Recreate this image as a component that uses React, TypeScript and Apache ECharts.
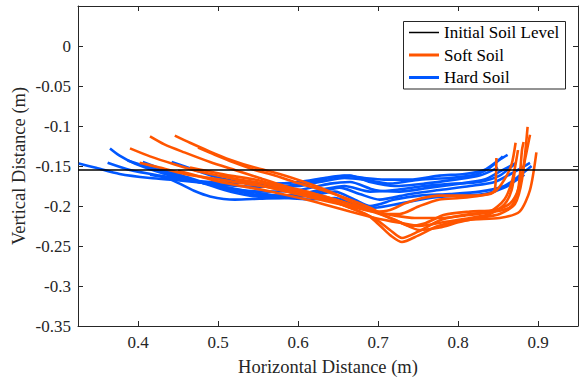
import { useEffect, useRef } from "react";
import * as echarts from "echarts";

// Axis ranges, tick labels and reference level
const xRange = [0.325, 0.95];
const yRange = [-0.35, 0.05];
const xTickValues = [0.4, 0.5, 0.6, 0.7, 0.8, 0.9];
const yTickValues = [0, -0.05, -0.1, -0.15, -0.2, -0.25, -0.3, -0.35];
const initialSoilLevel = -0.155;
const legendNames = ["Initial Soil Level", "Soft Soil", "Hard Soil"];

// Hard soil trajectories (x, y in metres)
const hard1X = [0.326, 0.346, 0.377, 0.415, 0.452, 0.490, 0.527, 0.565, 0.602, 0.627, 0.658, 0.683, 0.715, 0.752, 0.790, 0.821, 0.840, 0.856];
const hard1Y = [-0.147, -0.152, -0.160, -0.165, -0.168, -0.172, -0.175, -0.176, -0.175, -0.170, -0.165, -0.167, -0.172, -0.167, -0.165, -0.161, -0.152, -0.138];
const hard2X = [0.365, 0.377, 0.396, 0.421, 0.452, 0.490, 0.527, 0.565, 0.602, 0.640, 0.665, 0.696, 0.727, 0.765, 0.802, 0.833, 0.852, 0.873];
const hard2Y = [-0.128, -0.137, -0.147, -0.156, -0.165, -0.173, -0.180, -0.182, -0.180, -0.172, -0.170, -0.180, -0.182, -0.177, -0.172, -0.167, -0.157, -0.146];
const hard3X = [0.362, 0.390, 0.427, 0.465, 0.502, 0.540, 0.577, 0.615, 0.652, 0.677, 0.702, 0.740, 0.777, 0.815, 0.846, 0.871, 0.890];
const hard3Y = [-0.146, -0.155, -0.162, -0.168, -0.175, -0.182, -0.187, -0.185, -0.177, -0.185, -0.192, -0.185, -0.180, -0.175, -0.170, -0.157, -0.146];
const hard4X = [0.387, 0.415, 0.446, 0.477, 0.508, 0.540, 0.577, 0.615, 0.646, 0.671, 0.690, 0.721, 0.752, 0.790, 0.827, 0.858, 0.877, 0.892];
const hard4Y = [-0.143, -0.152, -0.161, -0.170, -0.180, -0.187, -0.190, -0.187, -0.182, -0.192, -0.200, -0.192, -0.187, -0.185, -0.182, -0.175, -0.162, -0.150];
const hard5X = [0.406, 0.433, 0.465, 0.496, 0.527, 0.558, 0.590, 0.627, 0.658, 0.690, 0.721, 0.758, 0.796, 0.827, 0.852, 0.870];
const hard5Y = [-0.145, -0.155, -0.165, -0.175, -0.182, -0.187, -0.187, -0.180, -0.175, -0.182, -0.180, -0.175, -0.172, -0.170, -0.162, -0.148];
const hard6X = [0.442, 0.471, 0.502, 0.540, 0.577, 0.608, 0.640, 0.665, 0.690, 0.721, 0.758, 0.796, 0.827, 0.850];
const hard6Y = [-0.145, -0.155, -0.165, -0.172, -0.175, -0.172, -0.165, -0.162, -0.170, -0.175, -0.172, -0.167, -0.162, -0.152];
const hard7X = [0.430, 0.452, 0.470, 0.490, 0.521, 0.552, 0.583, 0.615, 0.646, 0.671, 0.696, 0.727, 0.765, 0.802, 0.833, 0.858, 0.883];
const hard7Y = [-0.162, -0.172, -0.181, -0.188, -0.192, -0.191, -0.190, -0.192, -0.190, -0.197, -0.202, -0.197, -0.190, -0.187, -0.185, -0.177, -0.161];
const hard8X = [0.415, 0.452, 0.490, 0.527, 0.565, 0.602, 0.633, 0.658, 0.683, 0.708, 0.740, 0.777, 0.808, 0.833, 0.852, 0.862];
const hard8Y = [-0.161, -0.167, -0.170, -0.171, -0.172, -0.170, -0.165, -0.162, -0.165, -0.167, -0.167, -0.162, -0.160, -0.155, -0.142, -0.136];

// Soft soil trajectories (x, y in metres)
const soft1X = [0.415, 0.433, 0.458, 0.490, 0.521, 0.552, 0.583, 0.615, 0.646, 0.677, 0.702, 0.727, 0.752, 0.777, 0.802, 0.827, 0.852, 0.871, 0.880, 0.887];
const soft1Y = [-0.113, -0.123, -0.133, -0.145, -0.155, -0.165, -0.175, -0.183, -0.192, -0.202, -0.210, -0.220, -0.230, -0.227, -0.220, -0.215, -0.210, -0.198, -0.167, -0.101];
const soft2X = [0.446, 0.465, 0.490, 0.515, 0.546, 0.577, 0.608, 0.640, 0.671, 0.696, 0.721, 0.740, 0.758, 0.783, 0.815, 0.846, 0.865, 0.875, 0.880, 0.882];
const soft2Y = [-0.112, -0.121, -0.132, -0.142, -0.152, -0.160, -0.170, -0.182, -0.197, -0.207, -0.217, -0.225, -0.222, -0.211, -0.207, -0.205, -0.197, -0.180, -0.130, -0.120];
const soft3X = [0.390, 0.415, 0.446, 0.477, 0.515, 0.552, 0.590, 0.627, 0.665, 0.688, 0.703, 0.716, 0.730, 0.750, 0.775, 0.815, 0.852, 0.877, 0.890, 0.898];
const soft3Y = [-0.128, -0.138, -0.148, -0.157, -0.165, -0.171, -0.180, -0.188, -0.202, -0.212, -0.225, -0.237, -0.245, -0.237, -0.225, -0.217, -0.215, -0.207, -0.180, -0.133];
const soft4X = [0.402, 0.427, 0.458, 0.490, 0.527, 0.565, 0.602, 0.640, 0.677, 0.698, 0.715, 0.730, 0.750, 0.780, 0.815, 0.846, 0.867, 0.877, 0.885, 0.890];
const soft4Y = [-0.146, -0.152, -0.160, -0.165, -0.171, -0.177, -0.185, -0.193, -0.207, -0.217, -0.230, -0.240, -0.232, -0.217, -0.210, -0.207, -0.200, -0.173, -0.136, -0.111];
const soft5X = [0.475, 0.496, 0.521, 0.546, 0.571, 0.602, 0.633, 0.665, 0.690, 0.708, 0.727, 0.752, 0.777, 0.802, 0.827, 0.846, 0.858, 0.867, 0.872];
const soft5Y = [-0.127, -0.136, -0.146, -0.155, -0.162, -0.172, -0.181, -0.192, -0.202, -0.210, -0.210, -0.200, -0.192, -0.190, -0.187, -0.182, -0.167, -0.148, -0.121];
const soft6X = [0.465, 0.490, 0.515, 0.546, 0.577, 0.608, 0.640, 0.671, 0.696, 0.721, 0.746, 0.777, 0.808, 0.840, 0.858, 0.868, 0.875];
const soft6Y = [-0.152, -0.157, -0.162, -0.167, -0.175, -0.182, -0.190, -0.200, -0.207, -0.212, -0.215, -0.215, -0.212, -0.207, -0.192, -0.167, -0.130];
const soft7X = [0.450, 0.477, 0.508, 0.540, 0.571, 0.602, 0.633, 0.665, 0.696, 0.727, 0.752, 0.783, 0.815, 0.840, 0.858, 0.867, 0.871];
const soft7Y = [-0.156, -0.163, -0.171, -0.177, -0.183, -0.190, -0.198, -0.207, -0.215, -0.221, -0.225, -0.220, -0.215, -0.210, -0.198, -0.180, -0.155];
const soft8X = [0.502, 0.533, 0.565, 0.602, 0.640, 0.671, 0.696, 0.715, 0.733, 0.752, 0.777, 0.815, 0.840, 0.846, 0.848];
const soft8Y = [-0.161, -0.170, -0.177, -0.186, -0.195, -0.202, -0.207, -0.205, -0.197, -0.191, -0.187, -0.187, -0.185, -0.180, -0.140];

const hardRuns = [
  [hard1X, hard1Y], [hard2X, hard2Y], [hard3X, hard3Y], [hard4X, hard4Y],
  [hard5X, hard5Y], [hard6X, hard6Y], [hard7X, hard7Y], [hard8X, hard8Y],
];
const softRuns = [
  [soft1X, soft1Y], [soft2X, soft2Y], [soft3X, soft3Y], [soft4X, soft4Y],
  [soft5X, soft5Y], [soft6X, soft6Y], [soft7X, soft7Y], [soft8X, soft8Y],
];

const ORANGE = "#FF5500";
const BLUE = "#0057FF";
const INK = "#262626";
const FONT = "Liberation Serif";

export default function App() {
  const ref = useRef<HTMLDivElement>(null);
  useEffect(() => {
    if (!ref.current) return;
    const chart = echarts.init(ref.current, undefined, { renderer: "svg" });

    const zip = (xs: number[], ys: number[]) => xs.map((x, i) => [x, ys[i]]);
    const runSeries = (runs: number[][][], name: string, color: string, z: number) =>
      runs.map(([xs, ys]) => ({
        type: "line",
        name,
        data: zip(xs, ys),
        symbol: "none",
        showSymbol: false,
        smooth: 0.25,
        lineStyle: { color, width: 2.6 },
        itemStyle: { color },
        z,
        silent: true,
      }));

    const axisCommon = {
      axisLine: { show: true, onZero: false, lineStyle: { color: INK, width: 1 } },
      axisTick: { show: true, inside: true, length: 5, lineStyle: { color: INK, width: 1 } },
      axisLabel: { show: false },
      splitLine: { show: false },
    };

    chart.setOption({
      animation: false,
      backgroundColor: "#ffffff",
      textStyle: { fontFamily: FONT },
      grid: { left: 78, right: 4, top: 6, bottom: 56, containLabel: false },
      xAxis: [
        {
          type: "value",
          position: "bottom",
          min: xRange[0],
          max: xRange[1],
          splitNumber: 6,
          name: "Horizontal Distance (m)",
          nameLocation: "middle",
          nameGap: 31,
          nameTextStyle: { fontFamily: FONT, fontSize: 18.5, color: INK },
          ...axisCommon,
        },
        { type: "value", position: "top", min: xRange[0], max: xRange[1], splitNumber: 6, ...axisCommon },
      ],
      yAxis: [
        {
          type: "value",
          position: "left",
          min: yRange[0],
          max: yRange[1],
          interval: 0.05,
          name: "Vertical Distance (m)",
          nameLocation: "middle",
          nameGap: 50,
          nameTextStyle: { fontFamily: FONT, fontSize: 18.5, color: INK },
          ...axisCommon,
        },
        { type: "value", position: "right", min: yRange[0], max: yRange[1], interval: 0.05, ...axisCommon },
      ],
      series: [
        ...runSeries(hardRuns, "Hard Soil", BLUE, 2),
        ...runSeries(softRuns, "Soft Soil", ORANGE, 3),
        {
          type: "line",
          name: "Initial Soil Level",
          data: [
            [xRange[0], initialSoilLevel],
            [xRange[1], initialSoilLevel],
          ],
          symbol: "none",
          showSymbol: false,
          lineStyle: { color: "#000000", width: 1.5 },
          itemStyle: { color: "#000000" },
          z: 4,
          silent: true,
        },
      ],
    });

    // Tick labels positioned through the axes' own scales
    const bottomY = chart.convertToPixel({ yAxisIndex: 0 }, yRange[0]) as number;
    const leftX = chart.convertToPixel({ xAxisIndex: 0 }, xRange[0]) as number;
    const label = (text: string, x: number, y: number, align: string, vAlign: string, fill = INK) => ({
      type: "text",
      silent: true,
      z: 11,
      style: {
        text,
        x,
        y,
        fontFamily: FONT,
        fontSize: 17,
        fill,
        align,
        verticalAlign: vAlign,
      },
    });
    const xLabels = xTickValues.map((v) =>
      label(v.toFixed(1), chart.convertToPixel({ xAxisIndex: 0 }, v) as number, bottomY + 8, "center", "top")
    );
    const yLabels = yTickValues.map((v) =>
      label(String(parseFloat(v.toFixed(2))), leftX - 7, chart.convertToPixel({ yAxisIndex: 0 }, v) as number, "right", "middle")
    );

    // Legend box
    const legendColors = ["#000000", ORANGE, BLUE];
    const legendWidths = [1.5, 3, 3];
    const lx = 403, ly = 21, lw = 162, rowH = 22.5;
    const legendItems: any[] = [
      {
        type: "rect",
        silent: true,
        z: 10,
        shape: { x: lx + 0.5, y: ly + 0.5, width: lw, height: rowH * 3 },
        style: { fill: "#ffffff", stroke: INK, lineWidth: 1 },
      },
    ];
    legendNames.forEach((name, i) => {
      const cy = ly + 11.5 + i * rowH;
      legendItems.push({
        type: "line",
        silent: true,
        z: 11,
        shape: { x1: lx + 6, y1: cy, x2: lx + 36, y2: cy },
        style: { stroke: legendColors[i], lineWidth: legendWidths[i] },
      });
      legendItems.push(label(name, lx + 41, cy, "left", "middle", "#000000"));
    });

    chart.setOption({ graphic: [...xLabels, ...yLabels, ...legendItems] });

    return () => chart.dispose();
  }, []);

  return (
    <div
      ref={ref}
      style={{ position: "fixed", left: 0, top: 0, width: 582, height: 382, background: "#fff" }}
    />
  );
}
